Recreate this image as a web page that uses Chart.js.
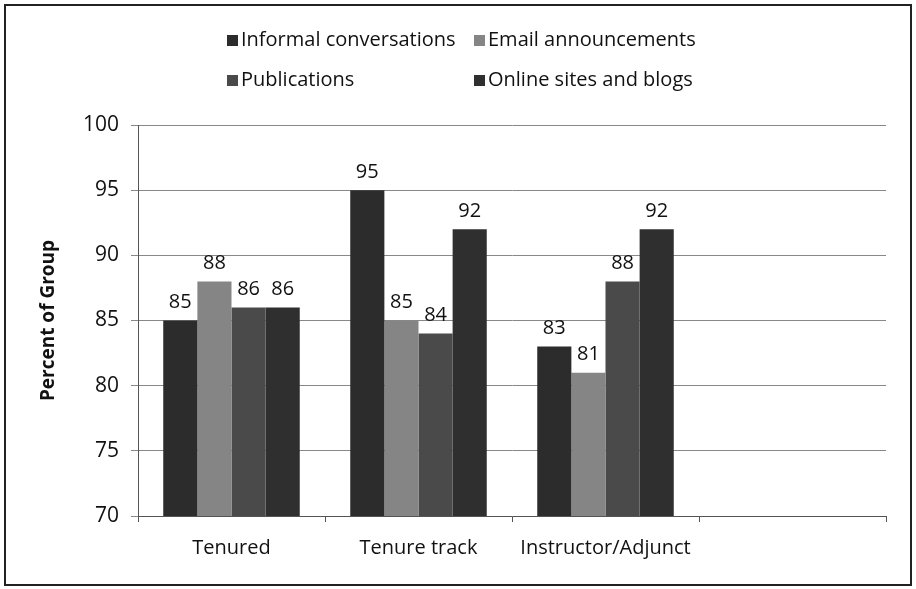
<!DOCTYPE html>
<html>
<head>
<meta charset="utf-8">
<script src="https://cdn.jsdelivr.net/npm/chart.js@4/dist/chart.umd.min.js"></script>
<style>
  html, body { margin: 0; padding: 0; background: #fff; }
  #wrap { position: relative; width: 916px; height: 589px; }
  #frame { position: absolute; left: 4px; top: 4px; width: 904px; height: 578px; border: 2px solid #222; pointer-events: none; }
</style>
</head>
<body>
<div id="wrap">
  <canvas id="myChart" width="916" height="589"></canvas>
  <div id="frame"></div>
</div>
<script>
const categories = ['Tenured', 'Tenure track', 'Instructor/Adjunct', ''];
const informal = [85, 95, 83, null];
const email = [88, 85, 81, null];
const publications = [86, 84, 88, null];
const online = [86, 92, 92, null];
const seriesNames = ['Informal conversations', 'Email announcements', 'Publications', 'Online sites and blogs'];
const yTicks = [70, 75, 80, 85, 90, 95, 100];

const colors = ['#2c2c2c', '#858585', '#4a4a4a', '#2f2f2f'];
const font = '"Open Sans", sans-serif';

// value labels above bars
const valueLabels = {
    id: 'valueLabels',
    afterDatasetsDraw(chart) {
        const ctx = chart.ctx;
        ctx.save();
        ctx.fillStyle = '#111';
        ctx.font = '20px ' + font;
        ctx.textAlign = 'center';
        ctx.textBaseline = 'bottom';
        chart.data.datasets.forEach((ds, i) => {
            chart.getDatasetMeta(i).data.forEach((bar, j) => {
                if (ds.data[j] == null) return;
                ctx.fillText(ds.data[j], bar.x, bar.y - 8);
            });
        });
        ctx.restore();
    }
};

// two-column legend like the original
const gridLegend = {
    id: 'gridLegend',
    afterDraw(chart) {
        const ctx = chart.ctx;
        const cols = [227, 474];
        const rows = [40, 80];
        ctx.save();
        ctx.font = '20px ' + font;
        ctx.textBaseline = 'middle';
        chart.data.datasets.forEach((ds, i) => {
            const x = cols[i % 2];
            const y = rows[Math.floor(i / 2)];
            ctx.fillStyle = ds.backgroundColor;
            ctx.fillRect(x, y - 5, 11, 11);
            ctx.fillStyle = '#111';
            ctx.fillText(ds.label, x + 14, y);
        });
        ctx.restore();
    }
};

const lists = [informal, email, publications, online];
const ctx = document.getElementById('myChart').getContext('2d');
new Chart(ctx, {
    type: 'bar',
    data: {
        labels: categories,
        datasets: lists.map((d, i) => ({
            label: seriesNames[i],
            data: d,
            backgroundColor: colors[i],
            borderWidth: 0,
            barPercentage: 1,
            categoryPercentage: 0.73
        }))
    },
    options: {
        responsive: false,
        animation: false,
        layout: { padding: { top: 125, right: 30, left: 0, bottom: 0 } },
        plugins: {
            legend: { display: false },
            tooltip: { enabled: false }
        },
        scales: {
            x: {
                afterFit: s => { s.height = 73; },
                grid: {
                    drawOnChartArea: false,
                    drawTicks: true,
                    tickLength: 6,
                    color: '#555'
                },
                border: { color: '#555', width: 1 },
                ticks: {
                    color: '#111',
                    font: { family: font, size: 20 },
                    padding: 14
                }
            },
            y: {
                min: 70,
                max: 100,
                afterFit: s => { s.width = 138; },
                afterBuildTicks: s => { s.ticks = yTicks.map(v => ({ value: v })); },
                grid: {
                    color: '#888',
                    tickLength: 7,
                    lineWidth: 1
                },
                border: { color: '#555', width: 1 },
                ticks: {
                    color: '#111',
                    font: { family: font, size: 21 },
                    padding: 12
                },
                title: {
                    display: true,
                    text: 'Percent of Group',
                    color: '#111',
                    font: { family: font, size: 19, weight: 'bold' },
                    padding: { top: 37, bottom: 0 }
                }
            }
        }
    },
    plugins: [valueLabels, gridLegend]
});
</script>
</body>
</html>
